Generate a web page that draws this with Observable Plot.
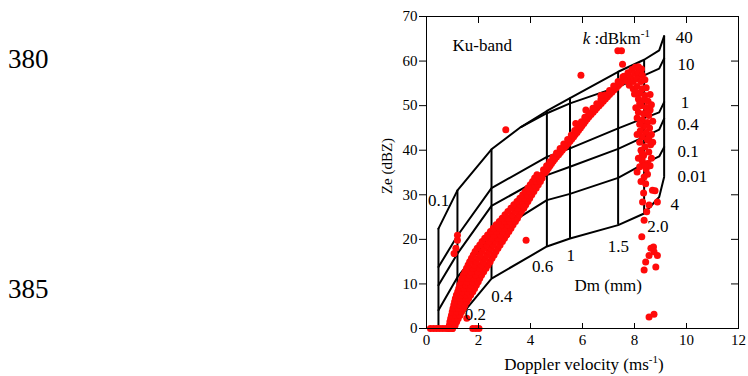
<!DOCTYPE html>
<html><head><meta charset="utf-8">
<script src="https://cdn.jsdelivr.net/npm/d3@7"></script>
<script src="https://cdn.jsdelivr.net/npm/@observablehq/plot@0.6"></script>
<style>
body{margin:0;background:#fff;}
#chart{width:748px;height:376px;}
</style></head><body><div id="chart"></div>
<script>
// ---------- tick values ----------
const xTicks = [0, 2, 4, 6, 8, 10, 12];
const yTicks = [0, 10, 20, 30, 40, 50, 60, 70];

// ---------- nomogram: Dm (mm) -> Doppler velocity, Ze on constant-k curves ----------
const dm         = [0.1, 0.2, 0.4, 0.5, 0.6, 1, 1.5, 2, 3, 4];
const dmVelocity = [0.46, 1.19, 2.5, 3.63, 4.63, 5.52, 7.37, 8.37, 8.95, 9.14];
const gridDm     = [0.1, 0.2, 0.4, 0.6, 1, 1.5, 2, 4];
const gridDmText = ["0.1", "0.2", "0.4", "0.6", "1", "1.5", "2.0", "4"];
const kValues = [40, 10, 1, 0.4, 0.1, 0.01];
const kText   = ["40", "10", "1", "0.4", "0.1", "0.01"];
const zeK40  = [null, null, null, 45.2, 48.8, 51.7, 57.6, 60.3, 62.4, 65.6];
const zeK10  = [22.4, 31.0, 40.2, 45.2, 48.3, 50.5, 54.2, 56.8, 58.3, 60.6];
const zeK1   = [13.8, 20.8, 31.5, null, 38.5, 40.4, 44.9, 47.2, 48.5, 50.8];
const zeK04  = [9.7, 16.8, 27.5, null, 34.4, 36.3, 40.3, 43.0, 44.6, 47.1];
const zeK01  = [4.1, 11.5, 21.0, null, 28.8, 30.2, 33.8, 37.0, 38.6, 40.7];
const zeK001 = [-6, 2.0, 11.2, null, 18.4, 20.2, 23.2, 25.8, 29.5, 34.0];

// ---------- observations (Doppler velocity, Ze) ----------
const zeroLineV = [0.15, 0.27, 0.39, 0.51, 0.63, 0.75, 0.87, 0.99, 1.78, 1.9, 2.02];
const bandZe = [0, 0.75, 1.5, 2.25, 3, 3.75, 4.5, 5.25, 6, 6.75, 7.5, 8.25, 9, 9.75, 10.5, 11.25, 12, 12.75,
                13.5, 14.25, 15, 15.75, 16.5, 17.25, 18, 18.75, 19.5, 20.25, 21, 21.75, 22.5, 23.25, 24, 24.75,
                25.5, 26.25, 27, 27.75, 28.5, 29.25, 30, 30.75, 31.5, 32.25, 33, 33.75, 34.5];
const bandV = [
  [0.85, 1.0], [0.88, 1.02, 1.1], [0.9, 1.03, 1.16], [0.93, 1.07, 1.22], [0.96, 1.12, 1.29], [0.99, 1.17, 1.35],
  [1.02, 1.22, 1.42], [1.05, 1.26, 1.48], [1.08, 1.31, 1.55], [1.11, 1.3, 1.5, 1.62],
  [1.15, 1.33, 1.52, 1.7], [1.2, 1.39, 1.58, 1.78], [1.24, 1.44, 1.65, 1.85], [1.28, 1.5, 1.71, 1.92],
  [1.33, 1.55, 1.77, 1.99], [1.37, 1.6, 1.83, 2.05], [1.42, 1.65, 1.89, 2.12], [1.48, 1.72, 1.96, 2.2],
  [1.54, 1.79, 2.04, 2.29], [1.6, 1.85, 2.11, 2.37], [1.66, 1.92, 2.19, 2.45], [1.73, 2.0, 2.26, 2.52],
  [1.8, 2.07, 2.33, 2.6], [1.87, 2.14, 2.4, 2.67], [1.95, 2.22, 2.48, 2.75], [2.05, 2.31, 2.57, 2.83],
  [2.14, 2.4, 2.66, 2.92], [2.24, 2.5, 2.75, 3.0], [2.35, 2.6, 2.84, 3.09], [2.46, 2.7, 2.93, 3.17],
  [2.57, 2.8, 3.02, 3.25], [2.68, 2.9, 3.11, 3.33], [2.8, 3.01, 3.21, 3.42], [2.91, 3.15, 3.38, 3.5],
  [3.02, 3.3, 3.57], [3.13, 3.4, 3.65], [3.25, 3.5, 3.74], [3.36, 3.6, 3.82], [3.48, 3.69, 3.9],
  [3.59, 3.79, 3.97], [3.7, 3.88, 4.05], [3.8, 3.97, 4.13], [3.9, 4.06, 4.22], [3.99, 4.15, 4.3],
  [4.08, 4.23, 4.38], [4.16, 4.34, 4.45], [4.25, 4.45]
];
const midV  = [4.57, 4.63, 4.69, 4.75, 4.81, 4.87, 4.93, 5.0, 5.08, 5.15, 5.22, 5.3, 5.37, 5.45, 5.52, 5.59, 5.66, 5.72,
               5.79, 5.85, 5.92, 5.98, 6.05, 6.11, 6.18, 6.25, 6.33, 6.41, 6.49, 6.56, 6.64, 6.72, 6.80, 6.88, 6.96,
               7.04, 7.13, 7.21, 7.30, 7.38, 7.47, 7.56, 7.65,
               4.5, 4.62, 4.74, 4.86, 5.0, 5.14, 5.28, 5.43, 5.57, 5.7, 5.83, 5.96, 6.09, 6.24, 6.4, 6.55, 6.71, 6.87,
               7.04, 7.2, 7.37, 7.55, 5.74, 6.13, 6.71, 7.06];
const midZe = [35, 35.5, 36, 36.5, 37, 37.5, 38, 38.5, 39, 39.5, 40, 40.5, 41, 41.5, 42, 42.5, 43, 43.5,
               44, 44.5, 45, 45.5, 46, 46.5, 47, 47.5, 48, 48.5, 49, 49.5, 50, 50.5, 51, 51.5, 52,
               52.5, 53, 53.5, 54, 54.5, 55, 55.5, 56,
               35.6, 36.5, 37.4, 38.4, 39.4, 40.4, 41.4, 42.4, 43.4, 44.4, 45.4, 46.4, 47.4, 48.4, 49.4, 50.4, 51.4, 52.4,
               53.4, 54.4, 55.4, 56.4, 46.0, 49.0, 52.3, 52.9];
const peakV  = [7.6, 7.75, 7.9, 8.03, 8.15, 8.27, 7.7, 7.85, 8.0, 8.15, 8.3, 7.8, 7.95, 8.1, 8.25, 8.4, 7.95, 8.1, 8.3, 8.45, 8.0, 8.2, 8.4];
const peakZe = [56.6, 57.4, 58.1, 58.6, 58.7, 58.2, 55.6, 56.3, 57.2, 57.4, 56.8, 54.6, 55.4, 56.0, 55.4, 55.8, 53.8, 54.3, 53.8, 54.0, 52.6, 52.8, 52.3];
const fallV  = [8.15, 8.35, 8.52, 8.25, 8.45, 8.6, 8.15, 8.35, 8.55, 8.1, 8.3, 8.5, 8.35, 8.58, 8.22, 8.45, 8.65, 8.3, 8.5, 8.2, 8.62, 8.4,
                8.25, 8.55, 8.35, 8.65, 8.3, 8.5, 8.2, 8.45, 8.1, 8.5, 8.37, 8.25, 8.43, 8.35, 8.69, 8.79, 8.88, 8.31, 8.56, 8.47,
                8.37, 8.28, 8.63, 8.73, 8.75, 8.56, 8.88, 8.43, 8.82, 8.37, 8.56, 8.75,
                8.05, 8.6, 8.2, 8.65, 8.05, 8.5, 8.2, 8.7, 8.1, 8.55, 8.7, 8.3, 8.6, 8.4, 8.15];
const fallZe = [51.5, 51.2, 51.0, 50.0, 49.6, 49.0, 48.5, 48.2, 47.8, 47.2, 46.8, 46.2, 45.3, 45.0, 44.3, 44.0, 43.5, 43.0, 42.3, 41.8, 41.2, 40.8,
                40.0, 39.6, 38.8, 38.2, 37.6, 37.0, 36.3, 35.8, 35.1, 34.6, 34.0, 33.0, 32.5, 30.4, 31.0, 30.9, 28.4, 28.4, 27.7, 26.2,
                24.3, 20.6, 18.0, 18.3, 17.2, 16.4, 16.4, 14.9, 13.8, 13.1, 2.6, 3.2,
                53.0, 52.5, 50.5, 50.2, 49.5, 48.5, 45.8, 46.5, 43.5, 42.8, 41.8, 39.2, 36.5, 36.5, 38.2];
const outV  = [3.05, 3.83, 5.94, 7.36, 7.5, 7.54, 1.19, 1.19, 1.13, 1.06, 1.55, 3.75];
const outZe = [44.6, 19.8, 56.8, 62.3, 62.3, 59.3, 20.9, 19.8, 18.0, 16.8, 2.3, 27.3];

// ---------- annotation anchors (data units) ----------
const kLabelV  = [9.59, 9.65, 9.78, 9.65, 9.65, 9.65];
const kLabelZe = [65.2, 59.3, 50.6, 45.8, 39.6, 34.2];
const dmLabelV  = [0.47, 1.88, 2.9, 4.47, 5.55, 7.38, 8.9, 9.55];
const dmLabelZe = [28.6, 3.2, 7.2, 14.0, 16.4, 18.4, 22.8, 27.7];

// ---------- build tables ----------
const curves = [zeK40, zeK10, zeK1, zeK04, zeK01, zeK001];
const kRows = [];
curves.forEach((zs, j) => zs.forEach((z, i) => { if (z != null) kRows.push({k: kValues[j], v: dmVelocity[i], ze: z}); }));
const verts = gridDm.map(d => {
  const i = dm.indexOf(d);
  const zs = curves.map(c => c[i]).filter(z => z != null);
  return {v: dmVelocity[i], lo: d3.min(zs), hi: d3.max(zs)};
});
const obs = [];
zeroLineV.forEach(v => obs.push({v, ze: 0}));
bandZe.forEach((z, i) => bandV[i].forEach(v => obs.push({v, ze: z})));
midV.forEach((v, i) => obs.push({v, ze: midZe[i]}));
peakV.forEach((v, i) => obs.push({v, ze: peakZe[i]}));
fallV.forEach((v, i) => obs.push({v, ze: fallZe[i]}));
outV.forEach((v, i) => obs.push({v, ze: outZe[i]}));

const kLabels = kText.map((t, i) => ({t, v: kLabelV[i], ze: kLabelZe[i]}));
const dmLabels = gridDmText.map((t, i) => ({t, v: dmLabelV[i], ze: dmLabelZe[i]}));

const pxX = 312 / 12, pxY = 312 / 70, tick = 7;
const serif = "'Liberation Serif', 'Times New Roman', serif";

const plot = Plot.plot({
  width: 748, height: 376,
  marginLeft: 426, marginRight: 10, marginTop: 16, marginBottom: 48,
  x: {domain: [0, 12]},
  y: {domain: [0, 70]},
  style: {fontFamily: serif, fontSize: "15px", color: "#000", background: "#fff"},
  marks: [
    Plot.line(kRows, {x: "v", y: "ze", z: "k", stroke: "#000", strokeWidth: 2, clip: true}),
    Plot.ruleX(verts, {x: "v", y1: "lo", y2: "hi", stroke: "#000", strokeWidth: 2, clip: true}),
    Plot.dot(obs, {x: "v", y: "ze", r: 3.5, fill: "#ff0a0a"}),
    Plot.frame({stroke: "#000"}),
    Plot.ruleY(yTicks, {x1: -tick / pxX, x2: 0, stroke: "#000"}),
    Plot.ruleY(yTicks, {x1: 12 - tick / pxX, x2: 12, stroke: "#000"}),
    Plot.ruleX(xTicks, {y1: 70, y2: 70 - tick / pxY, stroke: "#000"}),
    Plot.ruleX(xTicks, {y1: 0, y2: 5 / pxY, stroke: "#000"}),
    Plot.axisX(xTicks, {tickSize: 0, tickPadding: 6, label: null, fontSize: 15}),
    Plot.axisY(yTicks, {tickSize: 0, tickPadding: 9, label: null, fontSize: 15}),
    Plot.text(kLabels, {x: "v", y: "ze", text: "t", textAnchor: "start", fontSize: 17}),
    Plot.text(dmLabels, {x: "v", y: "ze", text: "t", fontSize: 17}),
    Plot.text(["Dm (mm)"], {x: 6.99, y: 9.7, text: d => d, fontSize: 17}),
    Plot.text(["Ku-band"], {x: 1.0, y: 63.5, text: d => d, textAnchor: "start", fontSize: 17})
  ]
});
document.getElementById("chart").appendChild(plot);

const svg = d3.select(plot);
function addText(x, y, size) {
  return svg.append("text").attr("x", x).attr("y", y).attr("text-anchor", "start")
    .style("font-family", serif).style("font-size", size + "px").attr("fill", "#000");
}
addText(8, 67.7, 27).text("380");
addText(8, 298.3, 27).text("385");

const xt = addText(584, 370, 17).attr("text-anchor", "middle");
xt.append("tspan").text("Doppler velocity (ms");
xt.append("tspan").attr("dy", -7).style("font-size", "11px").text("-1");
xt.append("tspan").attr("dy", 7).text(")");

addText(0, 0, 15).attr("x", null).attr("y", null).attr("text-anchor", "middle")
  .attr("transform", "translate(392,166) rotate(-90)").text("Ze (dBZ)");

const kt = addText(582.7, 44, 17);
kt.append("tspan").style("font-style", "italic").text("k");
kt.append("tspan").text(" :dBkm");
kt.append("tspan").attr("dy", -7).style("font-size", "11px").text("-1");
</script>
</body></html>
